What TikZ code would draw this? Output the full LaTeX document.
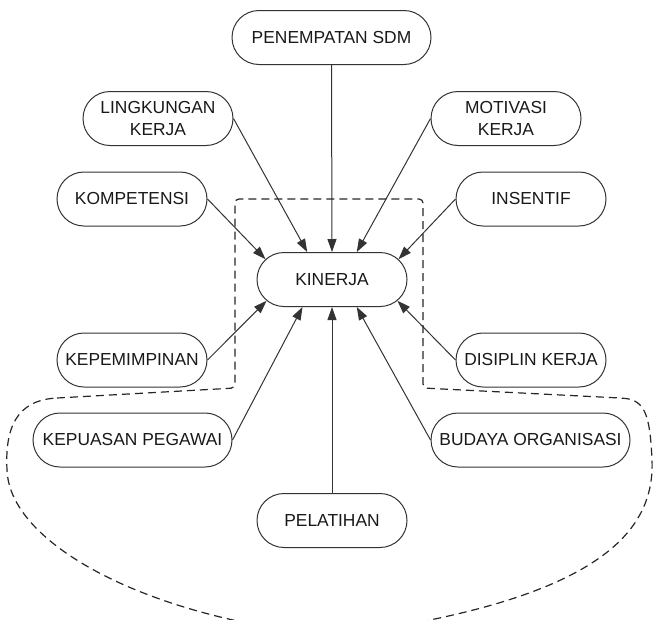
\documentclass[tikz,border=0pt]{standalone}
\usepackage{fontspec}
\setmainfont{Liberation Sans}
\usetikzlibrary{arrows.meta,shapes.misc}
\newcommand{\ztext}[1]{\makebox[0pt]{#1}}

\begin{document}
\begin{tikzpicture}[x=1pt,y=-1pt,
every node/.style={rounded rectangle,draw=black!80,line width=1pt,
minimum width=150pt,minimum height=54pt,inner xsep=0pt,text=black!90,
font=\fontsize{17.4}{21.7}\selectfont,align=center},
wide/.style={minimum width=199pt},
arr/.style={line width=1pt,draw=black!80,-{Triangle[length=13pt,width=9pt]}},
dashline/.style={line width=1.2pt,draw=black!85,dash pattern=on 8pt off 5pt}]
\useasboundingbox (0,0) rectangle (653,619);
\clip (0,0) rectangle (653,619);
\node[wide] (pen) at (331.5,37.5) {\ztext{PENEMPATAN SDM}};
\node (ling) at (158,118.5) {\ztext{LINGKUNGAN}\\\ztext{KERJA}};
\node (moti) at (506,118.5) {\ztext{MOTIVASI}\\\ztext{KERJA}};
\node (komp) at (132,199) {\ztext{KOMPETENSI}};
\node (ins) at (531,199) {\ztext{INSENTIF}};
\node (kin) at (332,279.5) {\ztext{KINERJA}};
\node (kepem) at (132,360) {\ztext{KEPEMIMPINAN}};
\node (disip) at (531,360) {\ztext{DISIPLIN KERJA}};
\node[wide] (kepu) at (132.5,440) {\ztext{KEPUASAN PEGAWAI}};
\node[wide] (bud) at (530.5,440) {\ztext{BUDAYA ORGANISASI}};
\node (pel) at (332,520.5) {\ztext{PELATIHAN}};
% arrows into KINERJA
\draw[arr] (pen.south)--(kin.north);
\draw[arr] (ling.east)--(kin.132);
\draw[arr] (moti.west)--(kin.48);
\draw[arr] (komp.east)--(kin.163);
\draw[arr] (ins.west)--(kin.17);
\draw[arr] (kepem.east)--(kin.198);
\draw[arr] (disip.west)--(kin.342);
\draw[arr] (kepu.east)--(kin.223);
\draw[arr] (bud.west)--(kin.312);
\draw[arr] (pel.north)--(kin.south);
% dashed boundary
\draw[dashline] (57,398) [rounded corners=4pt]-- (235,388) -- (235,199) -- (423,199)
-- (423,388) -- (620,398) [sharp corners]
.. controls (645,400) and (650,415) .. (652,460)
.. controls (655,530) and (600,585) .. (430,620)
.. controls (380,632) and (280,632) .. (233,620)
.. controls (100,590) and (9,530) .. (7,470)
.. controls (5,430) and (15,400) .. (57,398);
\end{tikzpicture}
\end{document}
